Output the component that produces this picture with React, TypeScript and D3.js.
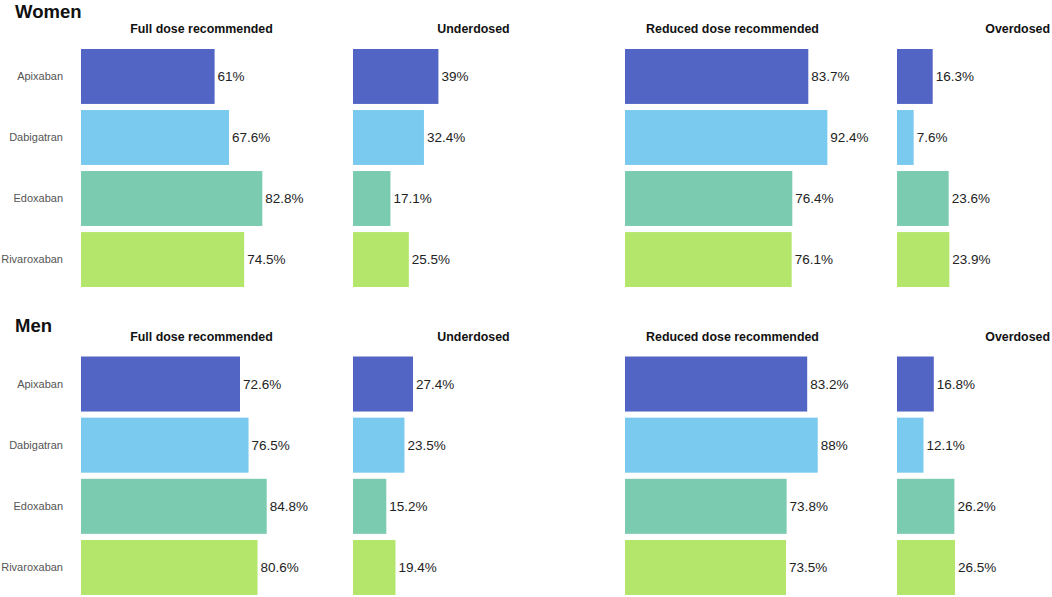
import React from "react";
import * as d3 from "d3";

const drugs = ["Apixaban", "Dabigatran", "Edoxaban", "Rivaroxaban"];
const drugColors = ["#5264C4", "#7AC9EF", "#7BCBB0", "#B4E66B"];
const panelTitles = ["Full dose recommended", "Underdosed", "Reduced dose recommended", "Overdosed"];

const womenFull = [61, 67.6, 82.8, 74.5];
const womenUnder = [39, 32.4, 17.1, 25.5];
const womenReduced = [83.7, 92.4, 76.4, 76.1];
const womenOver = [16.3, 7.6, 23.6, 23.9];

const menFull = [72.6, 76.5, 84.8, 80.6];
const menUnder = [27.4, 23.5, 15.2, 19.4];
const menReduced = [83.2, 88, 73.8, 73.5];
const menOver = [16.8, 12.1, 26.2, 26.5];

const groups = [
  { name: "Women", panels: [womenFull, womenUnder, womenReduced, womenOver] },
  { name: "Men", panels: [menFull, menUnder, menReduced, menOver] },
];

const W = 1052;
const H = 597;
const FONT = "'Liberation Sans', Arial, Helvetica, sans-serif";

// layout
const panelX = [81, 353, 625, 897];
const titleX = [201.5, 473.5, 732.5, 1050];
const titleAnchor = ["middle", "middle", "middle", "end"];
const groupTop = [49, 356.5];
const groupBottom = [287, 595];
const groupTitleY = [18, 332];
const panelTitleY = [33, 341];

const x = d3.scaleLinear().domain([0, 100]).range([0, 219]);

export default function App() {
  return (
    <svg
      width={W}
      height={H}
      style={{ position: "absolute", left: 0, top: 0, background: "#fff" }}
      fontFamily={FONT}
    >
      <rect width={W} height={H} fill="#fff" />
      {groups.map((g, gi) => {
        const y = d3
          .scaleBand<string>()
          .domain(drugs)
          .range([groupTop[gi], groupBottom[gi]])
          .paddingInner(0.1)
          .paddingOuter(0);
        return (
          <g key={g.name}>
            <text x={15} y={groupTitleY[gi]} fontSize={18.5} fontWeight="bold" fill="#111">
              {g.name}
            </text>
            {drugs.map((d) => (
              <text
                key={d}
                x={63}
                y={(y(d) ?? 0) + y.bandwidth() / 2}
                dy="0.35em"
                textAnchor="end"
                fontSize={11}
                fill="#555"
              >
                {d}
              </text>
            ))}
            {g.panels.map((vals, pi) => (
              <g key={pi}>
                <text
                  x={titleX[pi]}
                  y={panelTitleY[gi]}
                  textAnchor={titleAnchor[pi] as any}
                  fontSize={12.4}
                  fontWeight="bold"
                  fill="#111"
                >
                  {panelTitles[pi]}
                </text>
                <g transform={`translate(${panelX[pi]},0)`}>
                  {vals.map((v, i) => {
                    const yy = y(drugs[i]) ?? 0;
                    return (
                      <g key={i}>
                        <rect x={0} y={yy} width={x(v)} height={y.bandwidth()} fill={drugColors[i]} />
                        <text
                          x={x(v) + 3}
                          y={yy + y.bandwidth() / 2}
                          dy="0.35em"
                          fontSize={13.5}
                          fill="#222"
                        >
                          {`${v}%`}
                        </text>
                      </g>
                    );
                  })}
                </g>
              </g>
            ))}
          </g>
        );
      })}
    </svg>
  );
}
